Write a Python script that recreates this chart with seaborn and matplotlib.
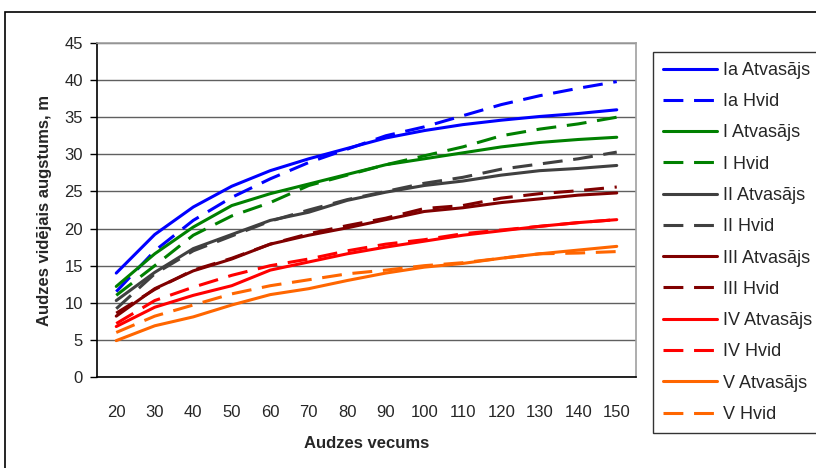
import matplotlib
matplotlib.use("Agg")
import matplotlib.pyplot as plt
from matplotlib.patches import Rectangle
from matplotlib.ticker import FixedLocator, NullFormatter
import seaborn as sns
import pandas as pd
import numpy as np

ages = [20, 30, 40, 50, 60, 70, 80, 90, 100, 110, 120, 130, 140, 150]

ia_atvasajs = [14.0, 19.2, 22.9, 25.7, 27.8, 29.4, 30.8, 32.2, 33.2, 34.0, 34.6, 35.1, 35.5, 36.0]
ia_hvid = [11.5, 17.0, 21.1, 24.2, 26.7, 28.9, 30.7, 32.5, 33.7, 35.2, 36.7, 37.9, 38.9, 39.8]
i_atvasajs = [12.2, 16.6, 20.2, 23.1, 24.7, 26.0, 27.3, 28.6, 29.4, 30.2, 31.0, 31.6, 32.0, 32.3]
i_hvid = [11.0, 15.0, 19.1, 21.7, 23.5, 25.8, 27.2, 28.6, 29.8, 31.0, 32.5, 33.4, 34.1, 35.0]
ii_atvasajs = [10.3, 14.1, 17.3, 19.2, 21.1, 22.2, 23.8, 24.9, 25.8, 26.4, 27.2, 27.8, 28.1, 28.5]
ii_hvid = [9.2, 13.9, 17.0, 19.0, 21.0, 22.5, 23.9, 25.0, 26.1, 26.9, 28.0, 28.7, 29.4, 30.3]
iii_atvasajs = [8.2, 11.9, 14.3, 15.9, 17.9, 19.1, 20.1, 21.2, 22.3, 22.8, 23.5, 24.0, 24.5, 24.8]
iii_hvid = [8.6, 11.8, 14.4, 16.0, 17.9, 19.3, 20.4, 21.4, 22.7, 23.1, 24.1, 24.7, 25.1, 25.6]
iv_atvasajs = [6.8, 9.4, 11.0, 12.3, 14.4, 15.5, 16.6, 17.5, 18.3, 19.1, 19.7, 20.3, 20.8, 21.2]
iv_hvid = [7.2, 10.3, 12.1, 13.7, 15.0, 15.9, 17.0, 17.9, 18.5, 19.3, 19.8, 20.3, 20.8, 21.2]
v_atvasajs = [4.9, 6.9, 8.1, 9.7, 11.1, 11.9, 13.0, 14.0, 14.8, 15.3, 16.0, 16.6, 17.1, 17.6]
v_hvid = [6.0, 8.2, 9.7, 11.2, 12.3, 13.1, 13.9, 14.4, 15.0, 15.4, 16.0, 16.6, 16.7, 16.9]

series_names = ["Ia Atvasājs", "Ia Hvid", "I Atvasājs", "I Hvid",
                "II Atvasājs", "II Hvid", "III Atvasājs", "III Hvid",
                "IV Atvasājs", "IV Hvid", "V Atvasājs", "V Hvid"]
series_values = [ia_atvasajs, ia_hvid, i_atvasajs, i_hvid,
                 ii_atvasajs, ii_hvid, iii_atvasajs, iii_hvid,
                 iv_atvasajs, iv_hvid, v_atvasajs, v_hvid]
class_colors = ["#0000FF", "#008000", "#404040", "#800000", "#FF0000", "#FF6600"]

sns.set_style("white")
plt.rcParams["font.family"] = ["Liberation Sans", "DejaVu Sans"]

rows = []
for name, vals in zip(series_names, series_values):
    for i, v in enumerate(vals):
        rows.append({"pos": i, "age": ages[i], "height": v, "series": name})
df = pd.DataFrame(rows)

palette = {name: class_colors[k // 2] for k, name in enumerate(series_names)}
dash_map = {name: ("" if k % 2 == 0 else (6.5, 3.5)) for k, name in enumerate(series_names)}

fig = plt.figure(figsize=(8.16, 4.68), dpi=100)
ax = fig.add_axes([97 / 816, 1 - 377 / 468, (636 - 97) / 816, (377 - 43) / 468])

sns.lineplot(data=df, x="pos", y="height", hue="series", style="series",
             hue_order=series_names, style_order=series_names,
             palette=palette, dashes=dash_map, linewidth=2.2, ax=ax,
             legend=False, sort=False)

ax.set_xlim(-0.5, len(ages) - 0.5)
ax.set_ylim(0, 45)
ax.set_yticks(np.arange(0, 46, 5))
ax.yaxis.grid(True, color="#606060", linewidth=1.0)
ax.xaxis.grid(False)
ax.set_axisbelow(True)

ax.set_xticks(range(len(ages)))
ax.set_xticklabels([str(a) for a in ages])
ax.xaxis.set_minor_locator(FixedLocator(np.arange(-0.5, len(ages), 1.0)))
ax.xaxis.set_minor_formatter(NullFormatter())
ax.tick_params(axis="x", which="major", length=0, pad=20, labelsize=12)
ax.tick_params(axis="x", which="minor", length=5, width=1, color="#000000", direction="out")
ax.tick_params(axis="y", which="major", length=5, width=1, color="#000000", direction="out",
               labelsize=12, pad=5, left=True)

for side in ["left", "bottom"]:
    ax.spines[side].set_color("#000000")
    ax.spines[side].set_linewidth(1.2)
for side in ["top", "right"]:
    ax.spines[side].set_color("#A0A0A0")
    ax.spines[side].set_linewidth(1.2)
    ax.spines[side].set_visible(True)

ax.set_xlabel("Audzes vecums", fontsize=12, fontweight="bold", labelpad=12)
ax.set_ylabel("Audzes vidējais augstums, m", fontsize=12, fontweight="bold", labelpad=9)

handles = ax.get_lines()[:len(series_names)]
leg = fig.legend(handles, series_names, loc="upper left",
                 bbox_to_anchor=(653 / 816, 1 - 52 / 468), frameon=True,
                 fontsize=13, handlelength=3.0, handletextpad=0.3,
                 labelspacing=0.79, borderpad=0.55, borderaxespad=0)
leg.get_frame().set_edgecolor("#000000")
leg.get_frame().set_linewidth(1.0)
leg.get_frame().set_boxstyle("square", pad=0)

fig.patches.append(Rectangle((5 / 816, -0.1), 1.2, (468 - 12) / 468 + 0.1,
                             transform=fig.transFigure, fill=False,
                             edgecolor="#000000", linewidth=1.2))

fig.savefig("out.png", dpi=100)
